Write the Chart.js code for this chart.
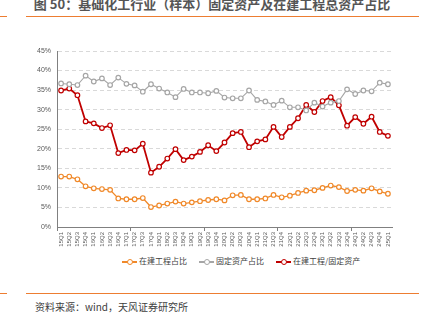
<!DOCTYPE html>
<html>
<head>
<meta charset="utf-8">
<script src="https://cdn.jsdelivr.net/npm/chart.js@4"></script>
<style>
  body { margin: 0; background: #fff; font-family: "Noto Sans CJK SC", sans-serif; }
  #wrap { position: relative; width: 424px; height: 323px; overflow: hidden; }
  .title { position: absolute; left: 0; width: 424px; top: -6px; text-align: center; font-size: 13px; font-weight: bold; color: #555; white-space: nowrap; }
  .rule { position: absolute; height: 1px; background: #ED7D31; }
  #chartBox { position: absolute; left: 0; top: 40px; width: 424px; height: 209px; }
  .legend { position: absolute; top: 255px; left: 122px; font-size: 8px; color: #404040; white-space: nowrap; }
  .legend span.item { display: inline-block; margin-right: 12px; }
  .mk { display: inline-block; position: relative; width: 15px; height: 8px; vertical-align: middle; margin-right: 2px; }
  .mk i { position: absolute; left: 0; right: 0; top: 3.5px; height: 1.5px; }
  .mk b { position: absolute; left: 4.5px; top: 1px; width: 4px; height: 4px; border-radius: 50%; background: #fff; border: 1.2px solid; }
  .source { position: absolute; left: 35px; top: 299px; font-size: 10px; color: #404040; }
</style>
</head>
<body>
<div id="wrap">
  <div class="title">图 50：基础化工行业（样本）固定资产及在建工程总资产占比</div>
  <div class="rule" style="left:0;width:7px;top:16px"></div>
  <div class="rule" style="left:26px;width:393px;top:16px"></div>
  <div id="chartBox"><canvas id="c"></canvas></div>
  <div class="legend" id="legend"></div>
  <div class="rule" style="left:0;width:7px;top:293px"></div>
  <div class="rule" style="left:26px;width:393px;top:293px"></div>
  <div class="source">资料来源：wind，天风证券研究所</div>
</div>
<script>
const quarters = [
  "15Q1","15Q2","15Q3","15Q4","16Q1","16Q2","16Q3","16Q4","17Q1","17Q2","17Q3","17Q4",
  "18Q1","18Q2","18Q3","18Q4","19Q1","19Q2","19Q3","19Q4","20Q1","20Q2","20Q3","20Q4",
  "21Q1","21Q2","21Q3","21Q4","22Q1","22Q2","22Q3","22Q4","23Q1","23Q2","23Q3","23Q4",
  "24Q1","24Q2","24Q3","24Q4","25Q1"
];

// 在建工程占比 (%)
const cipShare = [
  12.9, 12.9, 12.2, 10.4, 9.9, 9.7, 9.5, 7.3, 7.1, 7.1, 7.4, 5.1,
  5.5, 6.0, 6.5, 6.0, 6.3, 6.6, 6.9, 7.1, 6.8, 8.1, 8.2, 7.1,
  7.1, 7.3, 8.2, 7.6, 8.0, 8.7, 9.3, 9.4, 10.0, 10.6, 10.2, 9.2,
  9.5, 9.3, 9.9, 9.1, 8.5
];

// 固定资产占比 (%)
const fixedShare = [
  36.7, 36.5, 36.3, 38.7, 37.2, 38.0, 36.3, 38.2, 36.6, 36.2, 34.6, 36.5,
  35.4, 34.4, 33.2, 35.3, 34.4, 34.4, 34.2, 34.8, 33.1, 32.9, 32.9, 34.9,
  32.5, 32.1, 31.2, 32.3, 30.6, 30.6, 29.8, 31.8, 30.8, 31.8, 32.2, 35.2,
  34.0, 34.9, 34.7, 36.9, 36.5
];

// 在建工程/固定资产 (%)
const cipToFixed = [
  34.9, 35.4, 33.7, 27.0, 26.5, 25.3, 26.0, 18.9, 19.7, 19.6, 21.3, 13.9,
  15.4, 17.5, 19.9, 17.1, 18.0, 19.2, 20.9, 19.4, 21.6, 24.0, 24.3, 20.4,
  21.9, 22.4, 25.6, 23.0, 25.6, 27.8, 31.2, 29.4, 32.2, 33.2, 31.1, 25.9,
  28.1, 26.4, 28.2, 24.3, 23.3
];

const yTicks = [0, 5, 10, 15, 20, 25, 30, 35, 40, 45];

const seriesDefs = [
  { label: "在建工程占比", data: cipShare, color: "#F0892A", width: 1.3 },
  { label: "固定资产占比", data: fixedShare, color: "#A6A6A6", width: 1.1 },
  { label: "在建工程/固定资产", data: cipToFixed, color: "#C00000", width: 1.8 }
];

// legend
const legend = document.getElementById("legend");
seriesDefs.forEach(s => {
  let item = document.createElement("span");
  item.className = "item";
  item.innerHTML = '<span class="mk"><i style="background:' + s.color + '"></i><b style="border-color:' + s.color + '"></b></span>' + s.label;
  legend.appendChild(item);
});

const tickFont = { family: "Liberation Sans, Arial, sans-serif", size: 7 };

new Chart(document.getElementById("c"), {
  type: "line",
  data: {
    labels: quarters,
    datasets: seriesDefs.map(s => ({
      label: s.label,
      data: s.data,
      borderColor: s.color,
      borderWidth: s.width,
      pointRadius: 2.3,
      pointBorderWidth: 1.2,
      pointBackgroundColor: "#fff",
      pointBorderColor: s.color,
      tension: 0
    }))
  },
  options: {
    responsive: true,
    maintainAspectRatio: false,
    animation: false,
    layout: { padding: { top: 11, right: 32, bottom: 0, left: 0 } },
    plugins: { legend: { display: false }, tooltip: { enabled: false } },
    scales: {
      x: {
        offset: true,
        grid: {
          offset: true,
          drawOnChartArea: false,
          tickLength: 4,
          color: ctx => (ctx.index % 9 === 0 ? "#808080" : "rgba(0,0,0,0)")
        },
        border: { color: "#808080", width: 1 },
        ticks: {
          autoSkip: false,
          minRotation: 90,
          maxRotation: 90,
          padding: 1,
          color: "#595959",
          font: { family: "Liberation Sans, Arial, sans-serif", size: 6 }
        },
        afterFit: scale => { scale.height = 22; }
      },
      y: {
        min: 0,
        max: 45,
        afterBuildTicks: scale => { scale.ticks = yTicks.map(v => ({ value: v })); },
        grid: {
          color: ctx => (ctx.tick && ctx.tick.value === 0 ? "rgba(0,0,0,0)" : "#D9D9D9"),
          lineWidth: 1,
          drawTicks: false
        },
        border: { color: "#808080", width: 1, dash: [4, 3] },
        ticks: {
          padding: 6,
          color: "#595959",
          font: tickFont,
          callback: v => v + "%"
        },
        afterFit: scale => { scale.width = 57; }
      }
    }
  }
});
</script>
</body>
</html>
